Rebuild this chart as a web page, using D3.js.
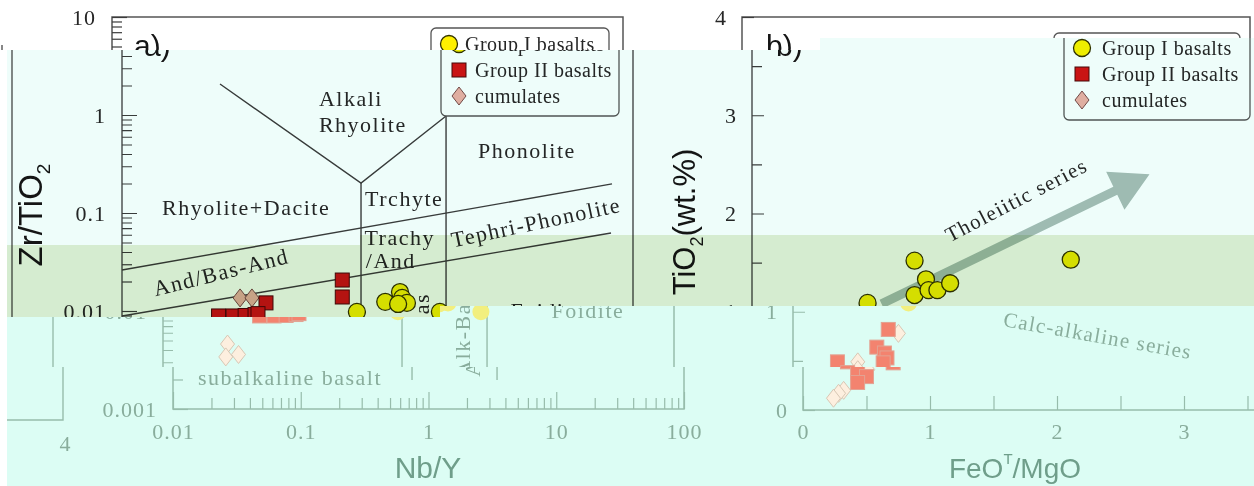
<!DOCTYPE html>
<html>
<head>
<meta charset="utf-8">
<script src="https://cdn.jsdelivr.net/npm/d3@7"></script>
<style>
  body { margin: 0; background: #fff; }
  svg { display: block; }
</style>
</head>
<body>
<svg width="1254" height="486"></svg>
<script>
const width = 1254;
const height = 486;

// ---- panel a) Zr/TiO2 vs Nb/Y ----
const nbyTicks = [0.01, 0.1, 1, 10, 100];
const nbyLabels = ["0.01", "0.1", "1", "10", "100"];
const zrTiTicks = [0.001, 0.01, 0.1, 1, 10];
const zrTiLabels = ["0.001", "0.01", "0.1", "1", "10"];

const groupI_NbY = [0.69, 1.15, 1.50, 1.56, 1.70, 1.45, 3.08];
const groupI_ZrTi = [0.0098, 0.0124, 0.0156, 0.0136, 0.0121, 0.0118, 0.0098];
const groupII_NbY = [0.53, 0.53, 0.134, 0.057, 0.074, 0.092, 0.110, 0.116];
const groupII_ZrTi = [0.0207, 0.0139, 0.0121, 0.0089, 0.0089, 0.0090, 0.0092, 0.0094];
const cumul_NbY = [0.084, 0.104, 0.032, 0.031, 0.039];
const cumul_ZrTi = [0.0136, 0.0136, 0.0046, 0.0034, 0.0036];

// field boundaries (Nb/Y, Zr/TiO2)
const fieldLines = [
  [[0.0585, 2.07], [0.743, 0.202], [3.44, 0.977]],
  [[0.743, 0.202], [0.743, 0.00198]],
  [[3.44, 0.977], [3.44, 0.00198]],
  [[0.01, 0.0262], [68.5, 0.198]],
  [[0.01, 0.0089], [67.3, 0.0625]]
];
const fieldLabels = [
  { text: "Alkali", x: 0.348, y: 1.49, anchor: "start", angle: 0 },
  { text: "Rhyolite", x: 0.348, y: 0.81, anchor: "start", angle: 0 },
  { text: "Rhyolite+Dacite", x: 0.0206, y: 0.115, anchor: "start", angle: 0 },
  { text: "Trchyte", x: 0.80, y: 0.142, anchor: "start", angle: 0 },
  { text: "Trachy", x: 0.79, y: 0.0569, anchor: "start", angle: 0 },
  { text: "/And", x: 0.81, y: 0.0331, anchor: "start", angle: 0 },
  { text: "Phonolite", x: 6.12, y: 0.44, anchor: "start", angle: 0 },
  { text: "Tephri-Phonolite", x: 17.4, y: 0.081, anchor: "middle", angle: -12 },
  { text: "And/Bas-And", x: 0.0596, y: 0.025, anchor: "middle", angle: -14 },
  { text: "Foidite", x: 21.2, y: 0.0102, anchor: "middle", angle: 0 },
  { text: "Alk-Bas", x: 2.19, y: 0.0057, anchor: "middle", angle: -90 },
  { text: "subalkaline basalt", x: 0.0824, y: 0.00212, anchor: "middle", angle: 0 }
];

// ---- panel b) TiO2 vs FeOT/MgO ----
const feoTicks = [0, 1, 2, 3, 4];
const tio2Ticks = [0, 1, 2, 3, 4];
const groupI_Feo = [1.28, 1.37, 1.28, 1.39, 1.46, 1.56, 0.91, 2.51];
const groupI_TiO2 = [1.52, 1.33, 1.17, 1.22, 1.22, 1.29, 1.09, 1.53];
const groupII_Feo = [0.75, 0.66, 0.72, 0.74, 0.71, 0.35, 0.43, 0.50, 0.43];
const groupII_TiO2 = [0.82, 0.64, 0.58, 0.53, 0.48, 0.49, 0.38, 0.34, 0.28];
const cumul_Feo = [0.83, 0.51, 0.51, 0.32, 0.28, 0.24];
const cumul_TiO2 = [0.78, 0.49, 0.41, 0.20, 0.17, 0.12];
const trendArrow = [[1.02, 1.08], [3.13, 2.40]];
const seriesLabels = [
  { text: "Tholeiitic series", x: 2.08, y: 2.14, angle: -27.5 },
  { text: "Calc-alkaline series", x: 2.40, y: 0.76, angle: 10 }
];

const legendLabels = ["Group I basalts", "Group II basalts", "cumulates"];

const xA = d3.scaleLog().domain([0.01, 100]).range([112, 623]);
const yA = d3.scaleLog().domain([0.001, 10]).range([409, 17]);
const xB = d3.scaleLinear().domain([0, 4]).range([742, 1250]);
const yB = d3.scaleLinear().domain([0, 4]).range([410, 17]);

const serif = "Liberation Serif, Times New Roman, serif";
const sans = "Liberation Sans, Arial, sans-serif";

const plain = {
  line: "#3c3c3c", frame: "#555", text: "#262626", title: "#151515",
  yellow: "#fff000", yellowStroke: "#333300", red: "#d81414", redStroke: "#4a0808",
  pink: "#efb0a4", pinkStroke: "#7a4a48", arrow: "#a9bdb6", box: "#fff"
};
const faded = {
  line: "#97bcab", frame: "#97bcab", text: "#89ad9c", title: "#6f9e8a",
  yellow: "#f2ef7e", yellowStroke: "none", red: "#f3836f", redStroke: "#e2a393",
  pink: "#fdefdf", pinkStroke: "#d8c7b4", arrow: "none", box: "none"
};

const svg = d3.select("svg");
const defs = svg.append("defs");

function minorLog(decades) {
  const out = [];
  decades.forEach(d => { for (let k = 2; k <= 9; k++) out.push(d * k); });
  return out;
}

function styleAxis(sel, p, size) {
  sel.select(".domain").remove();
  sel.selectAll(".tick line").attr("stroke", p.line).attr("stroke-width", 1.2);
  sel.selectAll(".tick text")
    .attr("fill", p.text)
    .attr("font-family", serif)
    .attr("font-size", size)
    .attr("letter-spacing", 1);
}

function marker(g, kind, x, y, p) {
  if (kind === 0) {
    g.append("circle").attr("cx", x).attr("cy", y).attr("r", 8.5)
      .attr("fill", p.yellow).attr("stroke", p.yellowStroke).attr("stroke-width", 1.3);
  } else if (kind === 1) {
    g.append("rect").attr("x", x - 7).attr("y", y - 7).attr("width", 14).attr("height", 14)
      .attr("fill", p.red).attr("stroke", p.redStroke).attr("stroke-width", 1);
  } else {
    g.append("path").attr("d", `M${x},${y - 9}L${x + 7},${y}L${x},${y + 9}L${x - 7},${y}Z`)
      .attr("fill", p.pink).attr("stroke", p.pinkStroke).attr("stroke-width", 1);
  }
}

function legend(g, p, left, top, w, h, rows, textDx) {
  g.append("rect").attr("x", left).attr("y", top).attr("width", w).attr("height", h)
    .attr("rx", 5).attr("fill", p.box).attr("stroke", p.frame).attr("stroke-width", 1.3);
  legendLabels.forEach((t, i) => {
    marker(g, i, left + 18, rows[i], p);
    g.append("text").attr("x", left + textDx).attr("y", rows[i] + 7)
      .attr("font-family", serif).attr("font-size", 20).attr("letter-spacing", 0.5)
      .attr("fill", p.text).text(t);
  });
}

function drawPanelA(g, p) {
  g.append("rect").attr("x", 112).attr("y", 17).attr("width", 511).attr("height", 392)
    .attr("fill", "none").attr("stroke", p.frame).attr("stroke-width", 1.5);

  const yMinor = g.append("g").attr("transform", "translate(112,0)")
    .call(d3.axisLeft(yA).tickValues(minorLog([0.001, 0.01, 0.1, 1])).tickSize(-10).tickFormat(""));
  styleAxis(yMinor, p, 22);
  const yMajor = g.append("g").attr("transform", "translate(112,0)")
    .call(d3.axisLeft(yA).tickValues(zrTiTicks).tickSize(-15).tickPadding(16)
      .tickFormat((d, i) => zrTiLabels[i]));
  styleAxis(yMajor, p, 22);

  const xMinor = g.append("g").attr("transform", "translate(0,409)")
    .call(d3.axisBottom(xA).tickValues(minorLog([0.01, 0.1, 1, 10])).tickSize(-11).tickFormat(""));
  styleAxis(xMinor, p, 22);
  const xMajor = g.append("g").attr("transform", "translate(0,409)")
    .call(d3.axisBottom(xA).tickValues(nbyTicks).tickSize(-17).tickPadding(14)
      .tickFormat((d, i) => nbyLabels[i]));
  styleAxis(xMajor, p, 22);

  const line = d3.line().x(d => xA(d[0])).y(d => yA(d[1]));
  g.selectAll(null).data(fieldLines).join("path")
    .attr("d", line).attr("fill", "none").attr("stroke", p.line).attr("stroke-width", 1.4);

  g.selectAll(null).data(fieldLabels).join("text")
    .attr("transform", d => `translate(${xA(d.x)},${yA(d.y)}) rotate(${d.angle})`)
    .attr("text-anchor", d => d.anchor)
    .attr("dy", "0.35em")
    .attr("font-family", serif).attr("font-size", 22).attr("letter-spacing", 1.5)
    .attr("fill", p.text).text(d => d.text);

  cumul_NbY.forEach((v, i) => marker(g, 2, xA(v), yA(cumul_ZrTi[i]), p));
  groupII_NbY.forEach((v, i) => marker(g, 1, xA(v), yA(groupII_ZrTi[i]), p));
  groupI_NbY.forEach((v, i) => marker(g, 0, xA(v), yA(groupI_ZrTi[i]), p));

  legend(g, p, 431, 28, 178, 88, [44, 70, 96], 34);

  const yl = g.append("text").attr("transform", "translate(32,215) rotate(-90)")
    .attr("text-anchor", "middle").attr("font-family", sans).attr("font-size", 33)
    .attr("fill", p.title).text("Zr/TiO");
  yl.append("tspan").attr("font-size", 19).attr("dy", 8).text("2");

  g.append("text").attr("x", 367).attr("y", 478).attr("text-anchor", "middle")
    .attr("font-family", sans).attr("font-size", 30).attr("fill", p.title).text("Nb/Y");

  g.append("text").attr("x", 134).attr("y", 56).attr("font-family", sans)
    .attr("font-size", 30).attr("fill", p.title).text("a)");

  // wrapped edge of the neighbouring frame
  g.append("path").attr("d", "M2,45V420H-60").attr("fill", "none")
    .attr("stroke", p.frame).attr("stroke-width", 1.4);
  g.append("text").attr("x", 4).attr("y", 451).attr("text-anchor", "middle")
    .attr("font-family", serif).attr("font-size", 22).attr("fill", p.text).text("4");
}

function drawPanelB(g, p) {
  g.append("rect").attr("x", 742).attr("y", 17).attr("width", 508).attr("height", 393)
    .attr("fill", "none").attr("stroke", p.frame).attr("stroke-width", 1.5);

  const yMinor = g.append("g").attr("transform", "translate(742,0)")
    .call(d3.axisLeft(yB).tickValues([0.5, 1.5, 2.5, 3.5]).tickSize(-10).tickFormat(""));
  styleAxis(yMinor, p, 22);
  const yMajor = g.append("g").attr("transform", "translate(742,0)")
    .call(d3.axisLeft(yB).tickValues(tio2Ticks).tickSize(-12).tickPadding(15)
      .tickFormat(d3.format("d")));
  styleAxis(yMajor, p, 22);

  const xMinor = g.append("g").attr("transform", "translate(0,410)")
    .call(d3.axisBottom(xB).tickValues([0.5, 1.5, 2.5, 3.5]).tickSize(-14).tickFormat(""));
  styleAxis(xMinor, p, 22);
  const xMajor = g.append("g").attr("transform", "translate(0,410)")
    .call(d3.axisBottom(xB).tickValues(feoTicks.slice(0, 4)).tickSize(-14).tickPadding(13)
      .tickFormat(d3.format("d")));
  styleAxis(xMajor, p, 22);

  if (p.arrow !== "none") {
    const p0 = [xB(trendArrow[0][0]), yB(trendArrow[0][1])];
    const p1 = [xB(trendArrow[1][0]), yB(trendArrow[1][1])];
    const len = Math.hypot(p1[0] - p0[0], p1[1] - p0[1]);
    const u = [(p1[0] - p0[0]) / len, (p1[1] - p0[1]) / len];
    const n = [-u[1], u[0]];
    const hl = 38, hw = 21, sw = 4.5;
    const b = [p1[0] - u[0] * hl, p1[1] - u[1] * hl];
    const pts = [
      [p0[0] + n[0] * sw, p0[1] + n[1] * sw],
      [b[0] + n[0] * sw, b[1] + n[1] * sw],
      [b[0] + n[0] * hw, b[1] + n[1] * hw],
      p1,
      [b[0] - n[0] * hw, b[1] - n[1] * hw],
      [b[0] - n[0] * sw, b[1] - n[1] * sw],
      [p0[0] - n[0] * sw, p0[1] - n[1] * sw]
    ];
    g.append("polygon").attr("points", pts.map(q => q.join(",")).join(" ")).attr("fill", p.arrow);
  }

  g.selectAll(null).data(seriesLabels).join("text")
    .attr("transform", d => `translate(${xB(d.x)},${yB(d.y)}) rotate(${d.angle})`)
    .attr("text-anchor", "middle").attr("dy", "0.35em")
    .attr("font-family", serif).attr("font-size", 21).attr("letter-spacing", 1.3)
    .attr("fill", p.text).text(d => d.text);

  cumul_Feo.forEach((v, i) => marker(g, 2, xB(v), yB(cumul_TiO2[i]), p));
  groupII_Feo.forEach((v, i) => marker(g, 1, xB(v), yB(groupII_TiO2[i]), p));
  groupI_Feo.forEach((v, i) => marker(g, 0, xB(v), yB(groupI_TiO2[i]), p));

  legend(g, p, 1054, 33, 186, 87, [48, 74, 100], 38);

  const yl = g.append("text").attr("transform", "translate(685,222) rotate(-90)")
    .attr("text-anchor", "middle").attr("font-family", sans).attr("font-size", 31)
    .attr("fill", p.title).text("TiO");
  yl.append("tspan").attr("font-size", 18).attr("dy", 8).text("2");
  yl.append("tspan").attr("dy", -8).text("(wt.%)");

  const xl = g.append("text").attr("x", 954).attr("y", 478).attr("text-anchor", "middle")
    .attr("font-family", sans).attr("font-size", 28).attr("fill", p.title).text("FeO");
  xl.append("tspan").attr("font-size", 15).attr("dy", -14).text("T");
  xl.append("tspan").attr("dy", 14).text("/MgO");

  g.append("text").attr("x", 766).attr("y", 56).attr("font-family", sans)
    .attr("font-size", 30).attr("fill", p.title).text("b)");
}

function drawChart(g, p) {
  drawPanelA(g, p);
  drawPanelB(g, p);
}

// the picture is split into horizontal strips, each shifted sideways
const tiles = [
  { id: "t0", dx: 0, pal: plain, bg: "#fff",
    pts: [[0, 0], [1254, 0], [1254, 38], [820, 38], [820, 50], [0, 50]] },
  { id: "t1", dx: 10, pal: plain, bg: "#fff",
    pts: [[7, 50], [820, 50], [820, 38], [1254, 38], [1254, 306], [440, 306], [440, 317], [7, 317]] },
  { id: "t2", dx: 51, pal: faded, bg: "#dcfdf4",
    pts: [[7, 317], [440, 317], [440, 306], [1254, 306], [1254, 367], [7, 367]] },
  { id: "t3", dx: 61, pal: faded, bg: "#dcfdf4",
    pts: [[7, 367], [1254, 367], [1254, 486], [7, 486]] }
];
const tints = [
  { color: "#eefdfa", pts: [[7, 50], [820, 50], [820, 38], [1254, 38], [1254, 235], [360, 235], [360, 245], [7, 245]] },
  { color: "#d5ecd0", pts: [[7, 245], [360, 245], [360, 235], [1254, 235], [1254, 306], [440, 306], [440, 317], [7, 317]] }
];

const ptsStr = pts => pts.map(q => q.join(",")).join(" ");

tiles.forEach(t => {
  defs.append("clipPath").attr("id", t.id).append("polygon").attr("points", ptsStr(t.pts));
  const g = svg.append("g").attr("clip-path", `url(#${t.id})`);
  g.append("rect").attr("width", width).attr("height", height).attr("fill", t.bg);
  drawChart(g.append("g").attr("transform", `translate(${t.dx},0)`), t.pal);
});

tints.forEach(t => {
  svg.append("polygon").attr("points", ptsStr(t.pts))
    .attr("fill", t.color).style("mix-blend-mode", "multiply");
});
</script>
</body>
</html>
